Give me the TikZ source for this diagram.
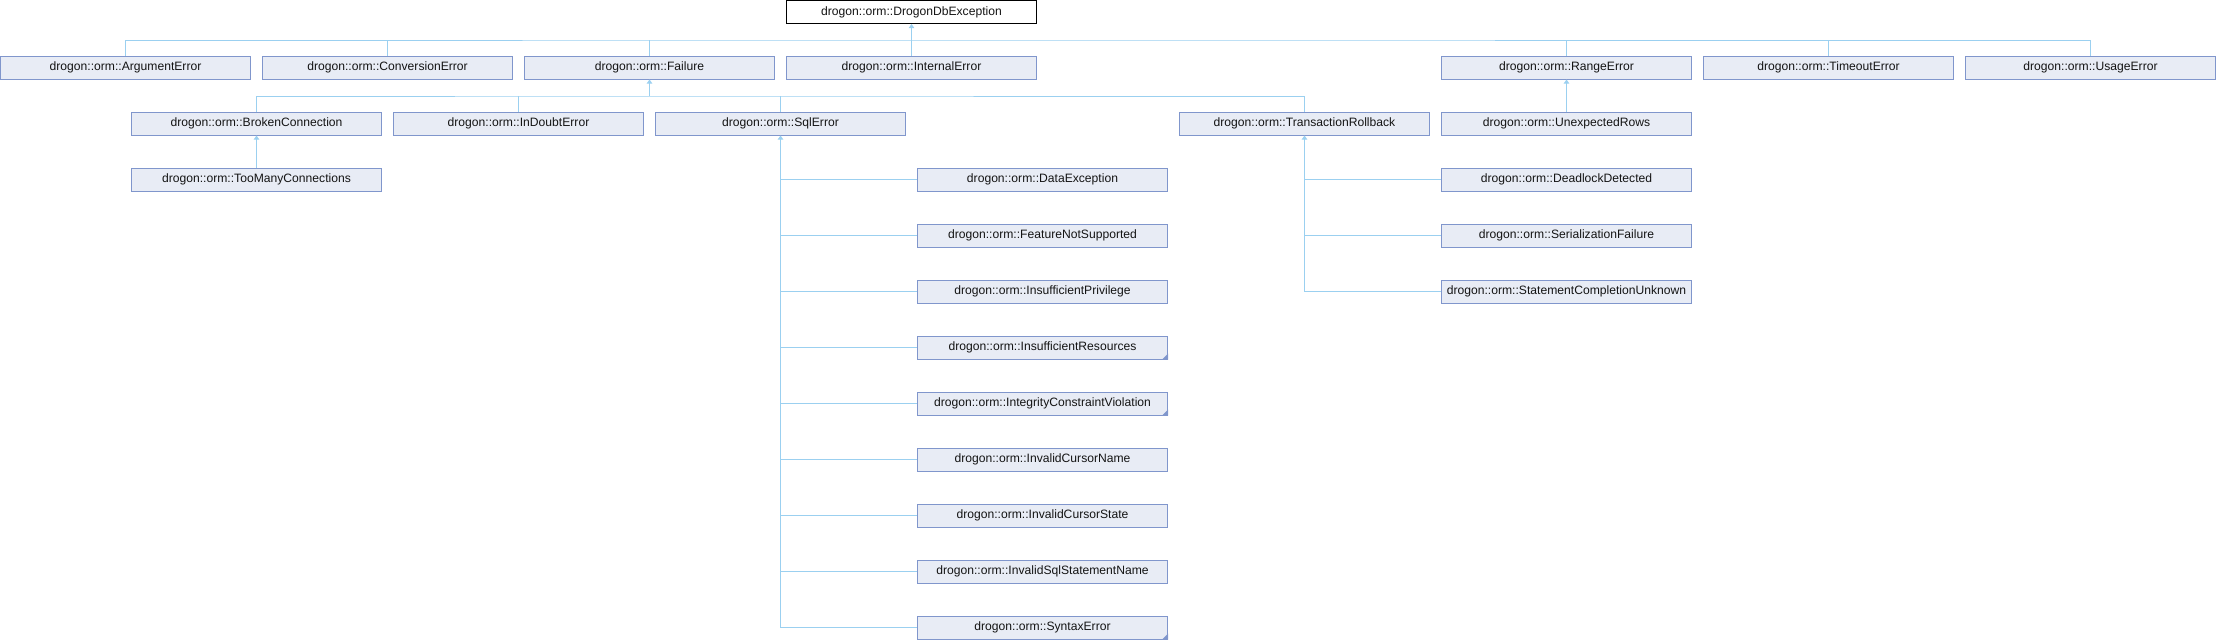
\documentclass[tikz,border=0pt]{standalone}
\usepackage{fontspec}
\setmainfont{Liberation Sans}
\usetikzlibrary{arrows.meta}
\definecolor{edgec}{RGB}{155,208,240}
\definecolor{boxfill}{RGB}{232,236,245}
\definecolor{boxdraw}{RGB}{128,150,204}
\definecolor{txt}{RGB}{20,20,20}
\tikzset{
 cls/.style={draw=boxdraw, fill=boxfill, line width=0.75pt, minimum width=187.5pt, minimum height=17.25pt, inner sep=0pt, text=txt, font=\fontsize{9.1}{11}\selectfont},
 rootcls/.style={cls, draw=black, fill=white},
 edge/.style={draw=edgec, line width=0.75pt},
 inh/.style={edge, -{Triangle[width=4pt,length=3pt]}},
}
\newcommand{\truncmark}[1]{\fill[boxdraw] (#1.south east) -- ++(-6,0) -- ++(6,-6) -- cycle;}
\begin{document}
\begin{tikzpicture}[x=0.75pt,y=-0.75pt]
\useasboundingbox (0,0) rectangle (2217,640);
% root
\node[rootcls] (root) at (911.5,12) {drogon::orm::DrogonDbException};
% row 1
\node[cls] (arg) at (125.5,67.5) {drogon::orm::ArgumentError};
\node[cls] (conv) at (387.5,67.5) {drogon::orm::ConversionError};
\node[cls] (fail) at (649.5,67.5) {drogon::orm::Failure};
\node[cls] (internal) at (911.5,67.5) {drogon::orm::InternalError};
\node[cls] (range) at (1566.5,67.5) {drogon::orm::RangeError};
\node[cls] (timeout) at (1828.5,67.5) {drogon::orm::TimeoutError};
\node[cls] (usage) at (2090.5,67.5) {drogon::orm::UsageError};
% row 2
\node[cls] (broken) at (256.5,123.5) {drogon::orm::BrokenConnection};
\node[cls] (indoubt) at (518.5,123.5) {drogon::orm::InDoubtError};
\node[cls] (sqlerr) at (780.5,123.5) {drogon::orm::SqlError};
\node[cls] (tr) at (1304.5,123.5) {drogon::orm::TransactionRollback};
\node[cls] (unexp) at (1566.5,123.5) {drogon::orm::UnexpectedRows};
% row 3
\node[cls] (toomany) at (256.5,179.5) {drogon::orm::TooManyConnections};
\node[cls] (dataex) at (1042.5,179.5) {drogon::orm::DataException};
\node[cls] (deadlock) at (1566.5,179.5) {drogon::orm::DeadlockDetected};
% further rows
\node[cls] (feature) at (1042.5,235.5) {drogon::orm::FeatureNotSupported};
\node[cls] (serial) at (1566.5,235.5) {drogon::orm::SerializationFailure};
\node[cls] (priv) at (1042.5,291.5) {drogon::orm::InsufficientPrivilege};
\node[cls] (stmt) at (1566.5,291.5) {drogon::orm::StatementCompletionUnknown};
\node[cls] (res) at (1042.5,347.5) {drogon::orm::InsufficientResources};
\node[cls] (integ) at (1042.5,403.5) {drogon::orm::IntegrityConstraintViolation};
\node[cls] (curname) at (1042.5,459.5) {drogon::orm::InvalidCursorName};
\node[cls] (curstate) at (1042.5,515.5) {drogon::orm::InvalidCursorState};
\node[cls] (sqlname) at (1042.5,571.5) {drogon::orm::InvalidSqlStatementName};
\node[cls] (syntax) at (1042.5,627.5) {drogon::orm::SyntaxError};
\truncmark{res}
\truncmark{integ}
\truncmark{syntax}
% root group
\coordinate (b0) at (911.5,40);
\draw[edge] (arg.north) |- (b0) -| (usage.north);
\foreach \n in {conv,fail,internal,range,timeout}
  \draw[edge] (\n.north) -- (\n.north |- b0);
\draw[inh] (b0) -- (root.south);
% failure group
\coordinate (b1) at (649.5,96);
\draw[edge] (broken.north) |- (b1) -| (tr.north);
\foreach \n in {indoubt,sqlerr}
  \draw[edge] (\n.north) -- (\n.north |- b1);
\draw[inh] (b1) -- (fail.south);
% single children
\draw[inh] (toomany.north) -- (broken.south);
\draw[inh] (unexp.north) -- (range.south);
% sqlerror group
\foreach \n in {dataex,feature,priv,res,integ,curname,curstate,sqlname,syntax}
  \draw[edge] (\n.west) -- (sqlerr.south |- \n.west);
\draw[inh] (sqlerr.south |- syntax.west) -- (sqlerr.south);
% transaction rollback group
\foreach \n in {deadlock,serial,stmt}
  \draw[edge] (\n.west) -- (tr.south |- \n.west);
\draw[inh] (tr.south |- stmt.west) -- (tr.south);
\end{tikzpicture}
\end{document}
